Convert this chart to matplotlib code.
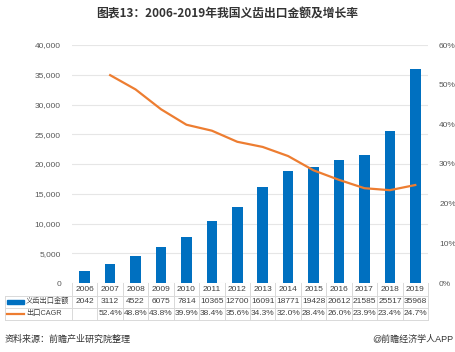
import matplotlib
matplotlib.use('Agg')
import matplotlib.pyplot as plt
import matplotlib.transforms as mtransforms
from matplotlib.patches import Rectangle
from matplotlib.lines import Line2D

plt.rcParams['font.family'] = ['Liberation Sans', 'Noto Sans CJK SC', 'DejaVu Sans']

years = ['2006', '2007', '2008', '2009', '2010', '2011', '2012',
         '2013', '2014', '2015', '2016', '2017', '2018', '2019']
export_value = [2042, 3112, 4522, 6075, 7814, 10365, 12700,
                16091, 18771, 19428, 20612, 21585, 25517, 35968]
cagr = [None, 52.4, 48.8, 43.8, 39.9, 38.4, 35.6,
        34.3, 32.0, 28.4, 26.0, 23.9, 23.4, 24.7]
bar_name = '义齿出口金额'
line_name = '出口CAGR'

blue = '#0070C0'
orange = '#ED7D31'
grid_c = '#E6E6E6'
tick_c = '#595959'

W, H = 455, 352
fig = plt.figure(figsize=(W / 100, H / 100), dpi=100)
left, right, top, bottom = 72, 428, 45, 283
ax = fig.add_axes([left / W, 1 - bottom / H, (right - left) / W, (bottom - top) / H])
ax2 = ax.twinx()

x = list(range(len(years)))
ax.bar(x, export_value, width=0.42, color=blue, zorder=2)
ax.set_xlim(-0.5, len(years) - 0.5)
ax.set_ylim(0, 40000)
ax.set_yticks(range(0, 40001, 5000))
ax.set_yticklabels(['{:,}'.format(v) for v in range(0, 40001, 5000)])
ax.grid(axis='y', color=grid_c, linewidth=0.8, zorder=0)
ax.set_xticks([])

lx = [i for i, v in enumerate(cagr) if v is not None]
ly = [v for v in cagr if v is not None]
ax2.plot(lx, ly, color=orange, linewidth=1.6, zorder=3)
ax2.set_ylim(0, 60)
ax2.set_yticks(range(0, 61, 10))
ax2.set_yticklabels(['{}%'.format(v) for v in range(0, 61, 10)])

for a in (ax, ax2):
    for s in a.spines.values():
        s.set_visible(False)
    a.tick_params(axis='y', length=0, labelsize=6, colors=tick_c, pad=8)
ax.set_axisbelow(True)

# data table under the chart
trans = mtransforms.blended_transform_factory(ax.transData, fig.transFigure)
row_y = [283, 295.5, 307.5, 319.5]
fy = lambda p: 1 - p / H
line_c = '#D9D9D9'
for p in row_y[1:]:
    fig.add_artist(Line2D([5 / W, right / W], [fy(p), fy(p)], color=line_c, linewidth=0.7))
for i in range(len(years) + 1):
    fig.add_artist(Line2D([i - 0.5, i - 0.5], [fy(row_y[0]), fy(row_y[3])],
                          transform=trans, color=line_c, linewidth=0.7))
fig.add_artist(Line2D([5 / W, 5 / W], [fy(row_y[1]), fy(row_y[3])], color=line_c, linewidth=0.7))

tkw = dict(transform=trans, ha='center', va='center', fontsize=6, color='#404040')
for i, yr in enumerate(years):
    fig.text(i, fy((row_y[0] + row_y[1]) / 2), yr, **tkw)
    fig.text(i, fy((row_y[1] + row_y[2]) / 2), str(export_value[i]), **tkw)
    if cagr[i] is not None:
        fig.text(i, fy((row_y[2] + row_y[3]) / 2), '{:.1f}%'.format(cagr[i]), **tkw)

ym1 = fy((row_y[1] + row_y[2]) / 2)
ym2 = fy((row_y[2] + row_y[3]) / 2)
fig.add_artist(Rectangle((7 / W, ym1 - 2 / H), 17 / W, 4 / H, color=blue, transform=fig.transFigure))
fig.add_artist(Line2D([7 / W, 24 / W], [ym2, ym2], color=orange, linewidth=1.6))
fig.text(26 / W, ym1, bar_name, ha='left', va='center', fontsize=5.2, color='#404040')
fig.text(26 / W, ym2, line_name, ha='left', va='center', fontsize=5.2, color='#404040')

fig.text(0.5, fy(14), '图表13：2006-2019年我国义齿出口金额及增长率',
         ha='center', va='center', fontsize=8.5, fontweight='bold', color='#333333',
         family=['Noto Sans CJK SC', 'DejaVu Sans'])
fig.text(5 / W, fy(339), '资料来源：前瞻产业研究院整理', ha='left', va='center',
         fontsize=6.5, color='#333333')
fig.text(453 / W, fy(339), '@前瞻经济学人APP', ha='right', va='center',
         fontsize=6.5, color='#333333')

fig.savefig('out.png', dpi=100, facecolor='white')
